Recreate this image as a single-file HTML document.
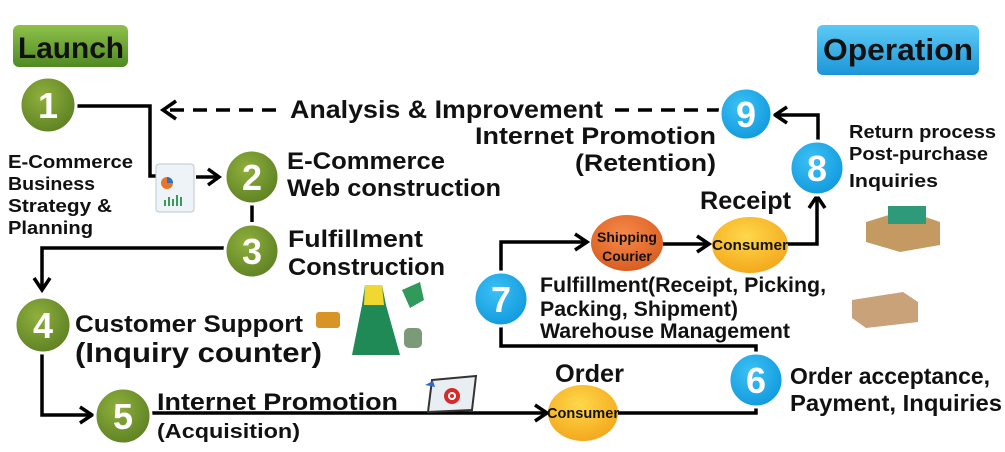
<!DOCTYPE html>
<html><head><meta charset="utf-8"><style>
html,body{margin:0;padding:0;background:#fff;}
svg{display:block;}
text{font-family:"Liberation Sans","DejaVu Sans",sans-serif;font-weight:bold;fill:#111;}
</style></head><body>
<svg width="1005" height="452" viewBox="0 0 1005 452" xmlns="http://www.w3.org/2000/svg">
<defs>
<radialGradient id="g" cx="40%" cy="35%" r="70%"><stop offset="0" stop-color="#8fb03c"/><stop offset="1" stop-color="#5c7f23"/></radialGradient>
<radialGradient id="b" cx="40%" cy="35%" r="70%"><stop offset="0" stop-color="#3cc0f5"/><stop offset="1" stop-color="#0f98dc"/></radialGradient>
<radialGradient id="y" cx="45%" cy="35%" r="70%"><stop offset="0" stop-color="#ffd84a"/><stop offset="1" stop-color="#f3a51a"/></radialGradient>
<radialGradient id="o" cx="45%" cy="35%" r="70%"><stop offset="0" stop-color="#f58a4a"/><stop offset="1" stop-color="#d85a1e"/></radialGradient>
<linearGradient id="lg" x1="0" y1="0" x2="0" y2="1"><stop offset="0" stop-color="#8fc04a"/><stop offset="1" stop-color="#4f8a22"/></linearGradient>
<linearGradient id="bl" x1="0" y1="0" x2="0" y2="1"><stop offset="0" stop-color="#5ccaf5"/><stop offset="1" stop-color="#1c96d8"/></linearGradient>
</defs>

<rect x="13" y="25" width="115" height="42" rx="6" fill="url(#lg)"/>
<text x="18" y="58" font-size="30" textLength="106" lengthAdjust="spacingAndGlyphs">Launch</text>
<rect x="817" y="25" width="162" height="50" rx="6" fill="url(#bl)"/>
<text x="823" y="60" font-size="31" textLength="150" lengthAdjust="spacingAndGlyphs">Operation</text>

<g stroke="#000" stroke-width="3.5" fill="none" stroke-linejoin="miter">
<polyline points="76,106 150,106 150,176 156,176"/>
<polyline points="196,177 219,177"/><polyline points="208,169 219,177 208,185"/>
<line x1="252" y1="203" x2="252" y2="222"/>
<polyline points="225,248 42,248 42,289"/><polyline points="34,278 42,290 50,278"/>
<polyline points="42,353 42,415 92,415"/><polyline points="80,407 92,415 80,423"/>
<polyline points="150,413 546,413"/><polyline points="535,405 547,413 535,421"/>
<polyline points="618,413 756,413 756,406"/>
<polyline points="756,352 756,346 501,346 501,326"/>
<polyline points="501,272 501,242 586,242"/><polyline points="575,234 587,242 575,250"/>
<polyline points="663,244 708,244"/><polyline points="697,236 709,244 697,252"/>
<polyline points="785,244 817,244 817,198"/><polyline points="809,208 817,196 825,208"/>
<polyline points="818,140 818,115 775,115"/><polyline points="787,107 775,115 787,123"/>
<line x1="170" y1="110" x2="280" y2="110" stroke-dasharray="14,9"/>
<polyline points="176,101 163,110 176,119"/>
<line x1="615" y1="110" x2="720" y2="110" stroke-dasharray="14,9"/>
</g>

<g stroke="#fff" stroke-width="3">
<circle cx="48" cy="105" r="28" fill="url(#g)"/>
<circle cx="252" cy="177" r="27" fill="url(#g)"/>
<circle cx="252" cy="251" r="27" fill="url(#g)"/>
<circle cx="43" cy="325" r="28" fill="url(#g)"/>
<circle cx="123" cy="416" r="28" fill="url(#g)"/>
<circle cx="756" cy="380" r="27" fill="url(#b)"/>
<circle cx="501" cy="299" r="27" fill="url(#b)"/>
<circle cx="817" cy="168" r="27" fill="url(#b)"/>
<circle cx="746" cy="114" r="26" fill="url(#b)"/>
</g>
<g font-size="36" text-anchor="middle">
<text x="48" y="118" style="fill:#fff">1</text>
<text x="252" y="190" style="fill:#fff">2</text>
<text x="252" y="264" style="fill:#fff">3</text>
<text x="43" y="338" style="fill:#fff">4</text>
<text x="123" y="429" style="fill:#fff">5</text>
<text x="756" y="393" style="fill:#fff">6</text>
<text x="501" y="312" style="fill:#fff">7</text>
<text x="817" y="181" style="fill:#fff">8</text>
<text x="746" y="127" style="fill:#fff">9</text>
</g>

<ellipse cx="627" cy="243" rx="36" ry="28" fill="url(#o)"/>
<text x="627" y="242" font-size="14" text-anchor="middle">Shipping</text>
<text x="627" y="261" font-size="14" text-anchor="middle">Courier</text>
<ellipse cx="750" cy="245" rx="38" ry="28" fill="url(#y)"/>
<text x="712" y="250" font-size="15" textLength="76" lengthAdjust="spacingAndGlyphs">Consumer</text>
<ellipse cx="583" cy="413" rx="35" ry="28" fill="url(#y)"/>
<text x="547" y="418" font-size="15" textLength="72" lengthAdjust="spacingAndGlyphs">Consumer</text>

<g style="" >
<text x="290" y="118" font-size="25" textLength="313" lengthAdjust="spacingAndGlyphs">Analysis &amp; Improvement</text>
<text x="475" y="144" font-size="24" textLength="241" lengthAdjust="spacingAndGlyphs">Internet Promotion</text>
<text x="575" y="171" font-size="24" textLength="141" lengthAdjust="spacingAndGlyphs">(Retention)</text>
<text x="287" y="169" font-size="24" textLength="158" lengthAdjust="spacingAndGlyphs">E-Commerce</text>
<text x="287" y="196" font-size="24" textLength="214" lengthAdjust="spacingAndGlyphs">Web construction</text>
<text x="288" y="247" font-size="24" textLength="135" lengthAdjust="spacingAndGlyphs">Fulfillment</text>
<text x="288" y="275" font-size="24" textLength="157" lengthAdjust="spacingAndGlyphs">Construction</text>
<text x="8" y="168" font-size="18" textLength="125" lengthAdjust="spacingAndGlyphs">E-Commerce</text>
<text x="8" y="190" font-size="18" textLength="87" lengthAdjust="spacingAndGlyphs">Business</text>
<text x="8" y="212" font-size="18" textLength="104" lengthAdjust="spacingAndGlyphs">Strategy &amp;</text>
<text x="8" y="234" font-size="18" textLength="85" lengthAdjust="spacingAndGlyphs">Planning</text>
<text x="75" y="332" font-size="24" textLength="228" lengthAdjust="spacingAndGlyphs">Customer Support</text>
<text x="75" y="362" font-size="28" textLength="247" lengthAdjust="spacingAndGlyphs">(Inquiry counter)</text>
<text x="157" y="410" font-size="24" textLength="241" lengthAdjust="spacingAndGlyphs">Internet Promotion</text>
<text x="157" y="438" font-size="20" textLength="143" lengthAdjust="spacingAndGlyphs">(Acquisition)</text>
<text x="555" y="382" font-size="25" textLength="69" lengthAdjust="spacingAndGlyphs">Order</text>
<text x="700" y="209" font-size="25" textLength="91" lengthAdjust="spacingAndGlyphs">Receipt</text>
<text x="540" y="292" font-size="21" textLength="286" lengthAdjust="spacingAndGlyphs">Fulfillment(Receipt, Picking,</text>
<text x="540" y="316" font-size="21" textLength="198" lengthAdjust="spacingAndGlyphs">Packing, Shipment)</text>
<text x="540" y="338" font-size="21" textLength="250" lengthAdjust="spacingAndGlyphs">Warehouse Management</text>
<text x="790" y="384" font-size="23" textLength="200" lengthAdjust="spacingAndGlyphs">Order acceptance,</text>
<text x="790" y="411" font-size="23" textLength="212" lengthAdjust="spacingAndGlyphs">Payment, Inquiries</text>
<text x="849" y="138" font-size="18" textLength="147" lengthAdjust="spacingAndGlyphs">Return process</text>
<text x="849" y="160" font-size="18" textLength="139" lengthAdjust="spacingAndGlyphs">Post-purchase</text>
<text x="849" y="187" font-size="18" textLength="89" lengthAdjust="spacingAndGlyphs">Inquiries</text>
</g>

<g>
<rect x="156" y="164" width="38" height="48" rx="3" fill="#eef3f7" stroke="#b8c8d4"/>
<circle cx="167" cy="183" r="6" fill="#e8752a"/><path d="M167 183 L167 177 A6 6 0 0 1 173 183Z" fill="#2a72c8"/>
<g fill="#3a9a5a"><rect x="164" y="200" width="2" height="6"/><rect x="168" y="197" width="2" height="9"/><rect x="172" y="199" width="2" height="7"/><rect x="176" y="195" width="2" height="11"/><rect x="180" y="197" width="2" height="9"/></g>
<rect x="316" y="312" width="24" height="16" rx="3" fill="#d99428"/>
<path d="M365 285 L382 285 L386 305 L400 355 L352 355 L362 305Z" fill="#1f8a55"/>
<path d="M365 285 L382 285 L384 305 L364 305Z" fill="#f0d830"/>
<path d="M402 290 L420 282 L424 300 L410 308Z" fill="#2f9a5a"/>
<rect x="404" y="328" width="18" height="20" rx="5" fill="#7a9a78"/>
<path d="M432 380 L476 376 L472 410 L428 412Z" fill="#e8eef2" stroke="#333" stroke-width="2"/>
<circle cx="452" cy="396" r="8" fill="#d82a2a"/><circle cx="452" cy="396" r="4" fill="#fff"/><circle cx="452" cy="396" r="2" fill="#d82a2a"/>
<path d="M425 385 l8 -4 l2 6Z" fill="#2a6ad8"/>
<path d="M866 222 L905 210 L940 222 L940 245 L900 252 L866 242Z" fill="#c49a62"/>
<rect x="888" y="206" width="38" height="18" fill="#2f9a7a"/>
<path d="M852 300 L903 292 L918 302 L918 322 L866 328 L852 318Z" fill="#c9a27a"/>
</g>
</svg>
</body></html>
